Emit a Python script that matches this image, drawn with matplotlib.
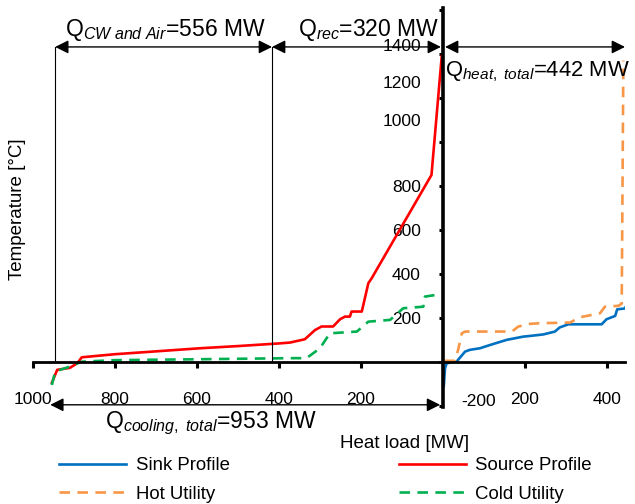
import matplotlib
matplotlib.use("Agg")
import matplotlib.pyplot as plt
from matplotlib.ticker import FuncFormatter

plt.rcParams['font.family'] = ['Liberation Sans', 'DejaVu Sans']
plt.rcParams['mathtext.fontset'] = 'custom'
plt.rcParams['mathtext.rm'] = 'Liberation Sans'
plt.rcParams['mathtext.it'] = 'Liberation Sans:italic'

# ---- data (heat load MW, temperature °C) ----
source_x = [-954, -941, -910, -892, -881, -800, -700, -593, -500, -400, -373, -337, -312, -296,
            -268, -251, -239, -227, -223, -198, -182, -174, -28, -3]
source_y = [-95, -36, -27, -6, 21, 35, 48, 62, 72, 84, 88, 103, 145, 161,
            161, 194, 206, 206, 229, 229, 358, 380, 850, 1390]

cold_x = [-954, -946, -910, -881, -800, -600, -373, -333, -300, -276, -210, -182, -129, -97, -48, -44, -15]
cold_y = [-105, -44, -21, 1, 8, 12, 17, 17, 62, 130, 138, 183, 191, 244, 251, 297, 305]

sink_x = [2, 5, 9, 33, 54, 66, 90, 115, 155, 196, 212, 245, 273, 285, 306, 387, 399, 420, 425, 444, 448]
sink_y = [-109, -29, -6, 1, 47, 55, 62, 77, 100, 115, 118, 125, 138, 157, 171, 171, 194, 209, 239, 243, 259]

hot_x = [5, 29, 37, 46, 54, 168, 184, 212, 237, 310, 334, 383, 395, 428, 436, 440]
hot_y = [5, 5, 55, 130, 138, 138, 161, 173, 176, 179, 203, 221, 251, 255, 265, 1370]

x_ticks = [-1000, -800, -600, -400, -200, 200, 400]
y_ticks = [-200, 0, 200, 400, 600, 800, 1000, 1200, 1400, 1600]

# annotation values
q_cw_x = [-946, -417]
q_rec_x = [-417, -5]
q_heat_x = [5, 444]
q_cool_x = [-958, -7]
arrow_y_top = 1432
arrow_y_bot = -195

W, H = 635, 504
fig = plt.figure(figsize=(W / 100, H / 100), dpi=100)
ax = fig.add_axes([33 / W, 97 / H, (625 - 33) / W, (407 - 8) / H])
ax.set_xlim(-1000, 444)
ax.set_ylim(-205, 1609)

l_sink, = ax.plot(sink_x, sink_y, color='#0070C0', lw=1.9, label='Sink Profile')
l_hot, = ax.plot(hot_x, hot_y, color='#F79646', lw=1.9, dashes=(4, 2.8), label='Hot Utility')
l_src, = ax.plot(source_x, source_y, color='#FF0000', lw=1.9, label='Source Profile')
l_cold, = ax.plot(cold_x, cold_y, color='#00B050', lw=1.9, dashes=(4, 2.8), label='Cold Utility')

# spines through zero
for s in ['top', 'right']:
    ax.spines[s].set_visible(False)
ax.spines['left'].set_position(('data', 0))
ax.spines['bottom'].set_position(('data', 0))
ax.spines['left'].set_linewidth(2.6)
ax.spines['bottom'].set_linewidth(2.0)

ax.set_xticks(x_ticks)
ax.xaxis.set_major_formatter(FuncFormatter(lambda v, p: f"{abs(int(v))}"))
ax.tick_params(axis='x', direction='out', length=4, width=2.2, pad=18, labelsize=12.5)

ax.set_yticks(y_ticks)
ax.set_yticklabels(['' if (v <= 0 or v >= 1000) else str(v) for v in y_ticks])
ax.tick_params(axis='y', direction='out', length=3, width=2.2, pad=13, labelsize=12.5)

# shifted y labels (as in reference)
for v, yy in [(1000, 1091), (1200, 1268), (1400, 1432)]:
    ax.text(-52, yy, str(v), ha='right', va='center', fontsize=12.5)
ax.text(45, -182, '-200', ha='left', va='center', fontsize=12.5)

# vertical guide lines
for xv in q_cw_x:
    ax.plot([xv, xv], [0, arrow_y_top], color='black', lw=0.8)

arrow_kw = dict(arrowstyle='<|-|>', color='black', lw=1.0, mutation_scale=20, shrinkA=0, shrinkB=0)
for xs, yv in [(q_cw_x, arrow_y_top), (q_rec_x, arrow_y_top), (q_heat_x, arrow_y_top), (q_cool_x, arrow_y_bot)]:
    ax.annotate('', xy=(xs[1], yv), xytext=(xs[0], yv), arrowprops=arrow_kw, annotation_clip=False)

def ftext(px, py, s, **kw):
    fig.text(px / W, 1 - py / H, s, **kw)

fs = 16.5
ftext(65, 36, r'Q$_{\mathit{CW\ and\ Air}}$=556 MW', fontsize=fs, ha='left', va='baseline')
ftext(298, 36, r'Q$_{\mathit{rec}}$=320 MW', fontsize=fs, ha='left', va='baseline')
ftext(445, 76, r'Q$_{\mathit{heat,\ total}}$=442 MW', fontsize=15.8, ha='left', va='baseline')
ftext(105, 428, r'Q$_{\mathit{cooling,\ total}}$=953 MW', fontsize=fs, ha='left', va='baseline')

ftext(405, 443, 'Heat load [MW]', fontsize=13.5, ha='center', va='center')
ftext(18, 209, 'Temperature [°C]', fontsize=13.5, ha='center', va='center', rotation=90)

fig.legend(handles=[l_sink, l_hot, l_src, l_cold], ncol=2, frameon=False, fontsize=13.4,
           loc='upper left', bbox_to_anchor=(52 / W, 1 - 450 / H), handlelength=3.6,
           handletextpad=0.5, columnspacing=9.1, labelspacing=0.6, borderaxespad=0)

fig.savefig('out.png', dpi=100)
